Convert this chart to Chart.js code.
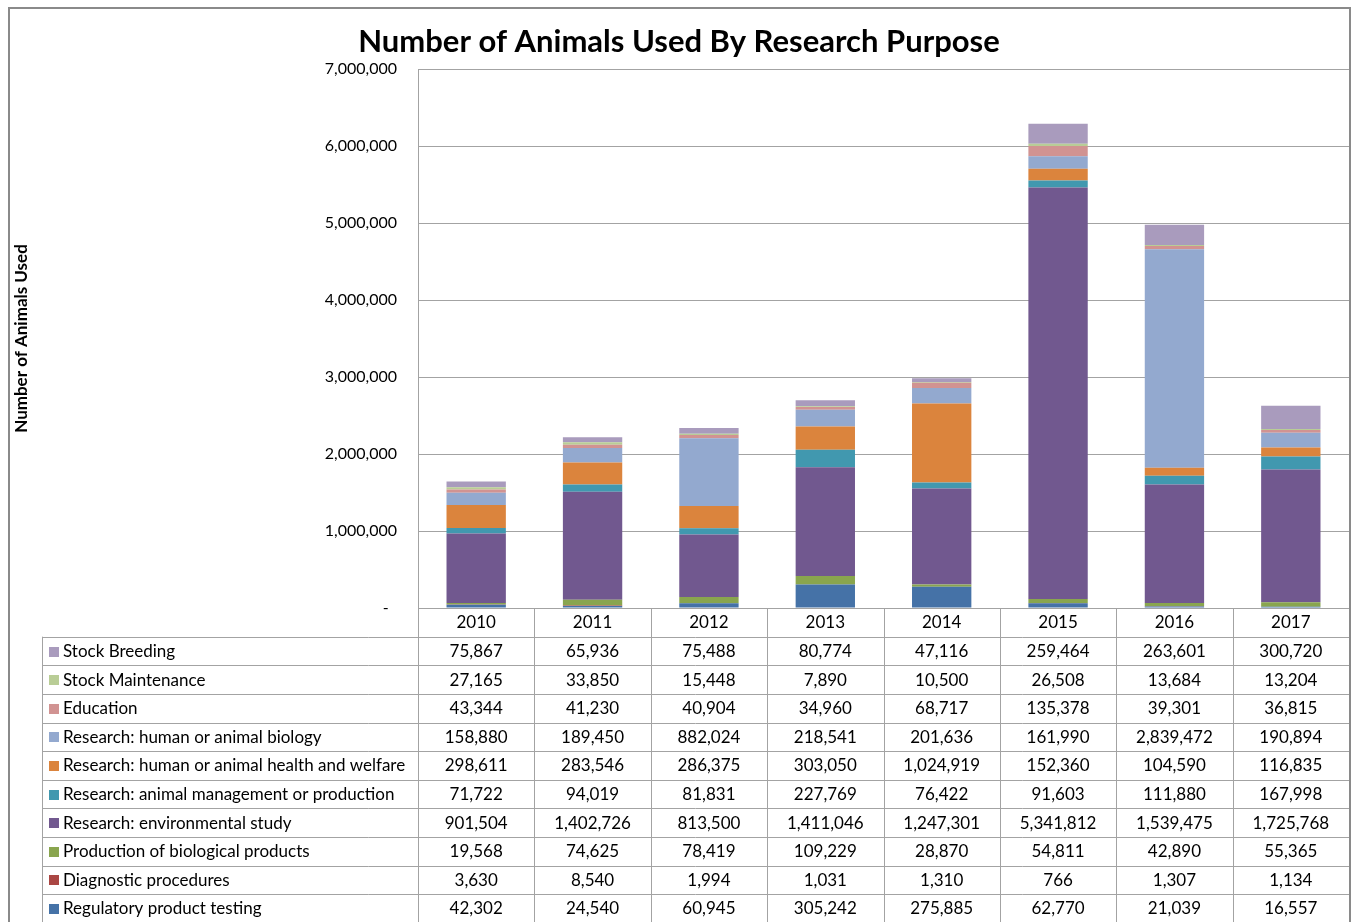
<!DOCTYPE html>
<html>
<head>
<meta charset="utf-8">
<script src="https://cdn.jsdelivr.net/npm/chart.js@4/dist/chart.umd.min.js"></script>
<style>
html,body{margin:0;padding:0;background:#fff;}
canvas{display:block;}
</style>
</head>
<body>
<canvas id="c" width="1355" height="922"></canvas>
<script>
const years = ['2010','2011','2012','2013','2014','2015','2016','2017'];
const regulatoryTesting = [42302, 24540, 60945, 305242, 275885, 62770, 21039, 16557];
const diagnosticProcedures = [3630, 8540, 1994, 1031, 1310, 766, 1307, 1134];
const biologicalProducts = [19568, 74625, 78419, 109229, 28870, 54811, 42890, 55365];
const environmentalStudy = [901504, 1402726, 813500, 1411046, 1247301, 5341812, 1539475, 1725768];
const animalManagement = [71722, 94019, 81831, 227769, 76422, 91603, 111880, 167998];
const healthWelfare = [298611, 283546, 286375, 303050, 1024919, 152360, 104590, 116835];
const humanAnimalBiology = [158880, 189450, 882024, 218541, 201636, 161990, 2839472, 190894];
const education = [43344, 41230, 40904, 34960, 68717, 135378, 39301, 36815];
const stockMaintenance = [27165, 33850, 15448, 7890, 10500, 26508, 13684, 13204];
const stockBreeding = [75867, 65936, 75488, 80774, 47116, 259464, 263601, 300720];
const yTicks = [0, 1000000, 2000000, 3000000, 4000000, 5000000, 6000000, 7000000];

const seriesNames = [
  'Regulatory product testing',
  'Diagnostic procedures',
  'Production of biological products',
  'Research: environmental study',
  'Research: animal management or production',
  'Research: human or animal health and welfare',
  'Research: human or animal biology',
  'Education',
  'Stock Maintenance',
  'Stock Breeding'
];
const seriesData = [regulatoryTesting, diagnosticProcedures, biologicalProducts, environmentalStudy,
  animalManagement, healthWelfare, humanAnimalBiology, education, stockMaintenance, stockBreeding];
const seriesColors = ['#4572A7','#AA4643','#89A54E','#71588F','#4198AF','#DB843D','#93A9CF','#D19392','#B9CD96','#A99BBD'];

const FONT = 'Lato';
const LINE = '#a3a3a3';
const fmt = v => v.toLocaleString('en-US');

const tablePlugin = {
  id: 'dataTable',
  afterDraw(chart) {
    const ctx = chart.ctx;
    const xs = chart.scales.x;
    const n = years.length;
    const cw = (xs.right - xs.left) / n;
    const top = xs.top;
    const headerBottom = 636.7;
    const rowH = 28.6;
    const tableLeft = 42;
    const bottom = 922;
    ctx.save();
    ctx.strokeStyle = LINE;
    ctx.lineWidth = 1;
    for (let k = 0; k <= n; k++) {
      const x = Math.round(xs.left + k * cw) + 0.5;
      ctx.beginPath(); ctx.moveTo(x, top); ctx.lineTo(x, bottom); ctx.stroke();
    }
    ctx.beginPath(); ctx.moveTo(tableLeft + 0.5, headerBottom); ctx.lineTo(tableLeft + 0.5, bottom); ctx.stroke();
    const rows = seriesNames.length;
    for (let r = 0; r <= rows; r++) {
      const y = Math.round(headerBottom + r * rowH) + 0.5;
      if (y > bottom) break;
      ctx.beginPath(); ctx.moveTo(tableLeft, y); ctx.lineTo(xs.right, y); ctx.stroke();
    }
    ctx.font = '17px ' + FONT;
    ctx.textBaseline = 'middle';
    for (let r = 0; r < rows; r++) {
      const si = rows - 1 - r;
      const cy = headerBottom + r * rowH + rowH / 2 + 0.5;
      ctx.fillStyle = seriesColors[si];
      ctx.fillRect(49, Math.round(cy - 5), 10, 10);
      ctx.fillStyle = '#000';
      ctx.textAlign = 'left';
      ctx.fillText(seriesNames[si], 63, cy);
      ctx.textAlign = 'center';
      for (let i = 0; i < n; i++) {
        ctx.fillText(fmt(seriesData[si][i]), xs.getPixelForValue(i), cy);
      }
    }
    ctx.font = 'bold 31px ' + FONT;
    ctx.textAlign = 'center';
    ctx.textBaseline = 'middle';
    ctx.fillStyle = '#000';
    ctx.fillText('Number of Animals Used By Research Purpose', 679, 42);
    ctx.strokeStyle = '#8a8a8a';
    ctx.lineWidth = 2;
    ctx.beginPath();
    ctx.moveTo(9, 930); ctx.lineTo(9, 8); ctx.lineTo(1350, 8); ctx.lineTo(1350, 930);
    ctx.stroke();
    ctx.restore();
  }
};

const datasets = seriesNames.map((name, i) => ({
  label: name,
  data: seriesData[i],
  backgroundColor: seriesColors[i],
  borderWidth: 0,
  categoryPercentage: 1.0,
  barPercentage: 0.51,
  stack: 's'
}));

new Chart(document.getElementById('c'), {
  type: 'bar',
  data: { labels: years, datasets },
  options: {
    responsive: false,
    animation: false,
    devicePixelRatio: 1,
    layout: { padding: { left: 8, top: 69, right: 6, bottom: 0 } },
    plugins: { legend: { display: false }, title: { display: false }, tooltip: { enabled: false } },
    scales: {
      x: {
        stacked: true,
        grid: { display: false, drawTicks: false },
        border: { display: true, color: LINE },
        ticks: { font: { family: FONT, size: 17 }, color: '#000', padding: 4, maxRotation: 0 },
        afterFit(scale) { scale.height = 314; }
      },
      y: {
        stacked: true,
        min: 0,
        max: 7000000,
        afterBuildTicks(scale) { scale.ticks = yTicks.map(v => ({ value: v })); },
        grid: { color: LINE, drawTicks: false },
        border: { display: true, color: LINE },
        ticks: {
          font: { family: FONT, size: 16 },
          color: '#000',
          padding: 21,
          callback: v => v === 0 ? '-  ' : fmt(v)
        },
        title: {
          display: true,
          text: 'Number of Animals Used',
          font: { family: FONT, size: 17, weight: 'bold' },
          color: '#000',
          padding: { top: 3, bottom: 0 }
        },
        afterFit(scale) { scale.width = 410; }
      }
    }
  },
  plugins: [tablePlugin]
});
</script>
</body>
</html>
